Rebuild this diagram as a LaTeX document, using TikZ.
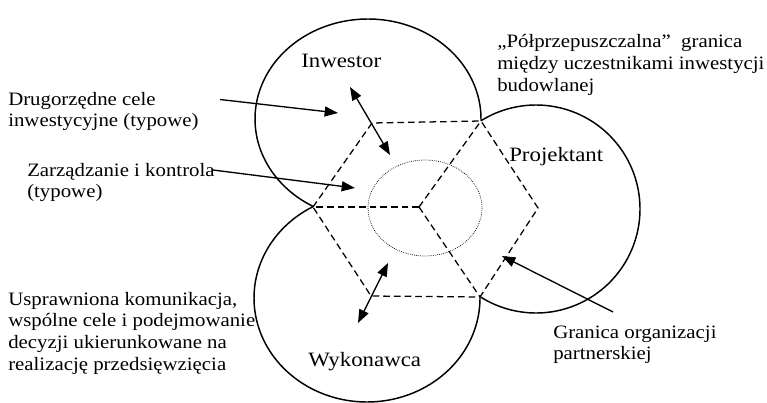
\documentclass[tikz,border=0pt]{standalone}
\usepackage{fontspec}
\setmainfont{Liberation Serif}
\usepackage{graphicx}
\usetikzlibrary{arrows.meta}
\newcommand{\sidetext}[1]{\scalebox{1.10}[1]{\fontsize{14.2pt}{16.3pt}\selectfont\begin{tabular}[t]{@{}l@{}}#1\end{tabular}}}
\newcommand{\circtext}[1]{\scalebox{1.12}[1]{\fontsize{15.3pt}{17pt}\selectfont #1}}
\begin{document}
\begin{tikzpicture}[x=0.75pt,y=-0.75pt,
  circ/.style={line width=1.1pt},
  hexline/.style={line width=0.95pt,dash pattern=on 5pt off 3pt},
  dotline/.style={line width=0.55pt,dash pattern=on 0.55pt off 0.9pt},
  arr/.style={line width=1pt,-{Triangle[length=10pt,width=7.5pt]}},
  darr/.style={line width=1pt,{Triangle[length=10pt,width=7.5pt]}-{Triangle[length=10pt,width=7.5pt]}},
  lbl/.style={inner sep=0pt,anchor=base west}]
\useasboundingbox (0,0) rectangle (767,403);
% junctions / hexagon vertices
\coordinate (L) at (313,207);
\coordinate (TL) at (372,123);
\coordinate (TR) at (481,121);
\coordinate (R) at (538,208);
\coordinate (BR) at (480,297);
\coordinate (BL) at (371,296);
\coordinate (C) at (419,207);
% circles (outer outline)
\draw[circ] plot[domain=-241:1,samples=150] ({368+113*cos(\x)},{119+100*sin(\x)});
\draw[circ] plot[domain=-122:122,samples=150] ({536+104*cos(\x)},{209+104*sin(\x)});
\draw[circ] plot[domain=-0.5:241.4,samples=150] ({367+113*cos(\x)},{298+104*sin(\x)});
% hexagon
\draw[hexline] (L) -- (TL) -- (TR) -- (R) -- (BR) -- (BL) -- cycle;
\draw[hexline] (C) -- (L);
\draw[hexline] (C) -- (TR);
\draw[hexline] (C) -- (BR);
% dotted ellipse
\draw[dotline] (425,208) ellipse [x radius=57, y radius=48];
% labels
\node[lbl] (inw) at (301,68) {\circtext{Inwestor}};
\node[lbl] (proj) at (509,161) {\circtext{Projektant}};
\node[lbl] (wyk) at (308,366) {\circtext{Wykonawca}};
\node[lbl] (drug) at (8,105) {\sidetext{Drugorzędne cele\\inwestycyjne (typowe)}};
\node[lbl] (zarz) at (27,176) {\sidetext{Zarządzanie i kontrola\\(typowe)}};
\node[lbl] (uspr) at (8,305) {\sidetext{Usprawniona komunikacja,\\wspólne cele i podejmowanie\\decyzji ukierunkowane na\\realizację przedsięwzięcia}};
\node[lbl] (polp) at (497,48) {\sidetext{„Półprzepuszczalna”\ \ granica\\między uczestnikami inwestycji\\budowlanej}};
\node[lbl] (gran) at (553,338) {\sidetext{Granica organizacji\\partnerskiej}};
% arrows
\coordinate (a1s) at (220,99.5);
\coordinate (a1e) at (338,113);
\coordinate (a2s) at (213,170);
\coordinate (a2e) at (355,188);
\coordinate (a3s) at (350,87);
\coordinate (a3e) at (390,155);
\coordinate (a4s) at (388,263);
\coordinate (a4e) at (358,323);
\coordinate (a5s) at (613,312);
\coordinate (a5e) at (502,256);
\draw[arr] (a1s) -- (a1e);
\draw[arr] (a2s) -- (a2e);
\draw[darr] (a3s) -- (a3e);
\draw[darr] (a4s) -- (a4e);
\draw[arr] (a5s) -- (a5e);
\end{tikzpicture}
\end{document}
